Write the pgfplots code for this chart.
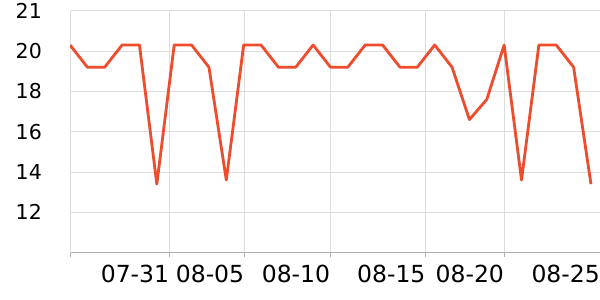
\documentclass[border=0pt]{standalone}
\usepackage{pgfplots}
\pgfplotsset{compat=1.18}
\usepackage{fontspec}
\setmainfont{DejaVu Sans}
\definecolor{linec}{RGB}{238,76,44}
\definecolor{gridc}{RGB}{221,221,221}
\definecolor{axc}{RGB}{176,176,176}
\begin{document}
\begin{tikzpicture}
\path[use as bounding box] (0,0) rectangle (600bp,300bp);
\begin{axis}[
  at={(70bp,47.3bp)}, anchor=south west,
  scale only axis, width=530bp, height=242bp,
  xmin=0, xmax=30.52, ymin=10, ymax=22,
  axis x line*=bottom, axis y line*=left,
  x axis line style={draw=axc, line width=0.8bp, -},
  y axis line style={draw=gridc, line width=0.8bp, -},
  xtick={0,5.72,10.04,14.99,20.48,25.0,30.52},
  xticklabels={,07-31,08-05,08-10,08-15,08-20,08-25},
  ytick={12,14,16,18,20,22},
  yticklabels={12,14,16,18,20,21},
  grid=major, major grid style={draw=gridc, line width=0.8bp},
  x tick style={draw=axc, line width=0.8bp},
  xtick align=outside, major tick length=4bp,
  y tick style={draw=none},
  /pgf/number format/assume math mode=true,
  xticklabel style={anchor=north east, inner sep=0pt, yshift=-8bp, font=\fontsize{23.5bp}{26bp}\selectfont},
  yticklabel style={anchor=east, inner sep=0pt, xshift=-28bp, font=\fontsize{20.5bp}{24bp}\selectfont},
]
\addplot[color=linec, line width=2.8bp, line join=round] coordinates {
(0,20.3) (1,19.2) (2,19.2) (3,20.3) (4,20.3) (5,13.4) (6,20.3) (7,20.3) (8,19.2) (9,13.6)
(10,20.3) (11,20.3) (12,19.2) (13,19.2) (14,20.3) (15,19.2) (16,19.2) (17,20.3) (18,20.3) (19,19.2)
(20,19.2) (21,20.3) (22,19.2) (23,16.6) (24,17.6) (25,20.3) (26,13.6) (27,20.3) (28,20.3) (29,19.2)
(30,13.4)
};
\end{axis}
\end{tikzpicture}
\end{document}
